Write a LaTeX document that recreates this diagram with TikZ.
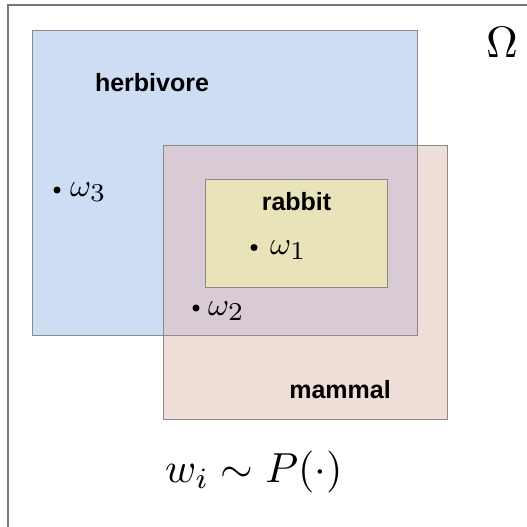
\documentclass[tikz,border=0pt]{standalone}
\usepackage{graphicx}
\usepackage{fontspec}
\newfontfamily\labelfont{Liberation Sans}
\definecolor{herbblue}{HTML}{CEDCF4}
\definecolor{mampink}{HTML}{EFDDD8}
\definecolor{overlapc}{HTML}{D8CBD6}
\definecolor{rabyellow}{HTML}{E8E3B8}
\definecolor{edgegray}{HTML}{8A8A8A}
\definecolor{framegray}{HTML}{777777}
\tikzset{
  setbox/.style={draw=edgegray, line width=0.9pt},
  setlabel/.style={inner sep=0pt, font=\labelfont\bfseries\fontsize{25}{30}\selectfont},
  elemlabel/.style={inner sep=0pt, anchor=base west},
  elemdot/.style={fill=black, circle, inner sep=0pt, minimum size=7pt},
}
\newcommand{\elemsym}[1]{\scalebox{3.2}{$\omega_{\scalebox{1.15}{$\scriptstyle #1$}}$}}
\begin{document}
\begin{tikzpicture}[x=1pt,y=-1pt]
\useasboundingbox (0,0) rectangle (527,527);
% outer frame
\draw[framegray, line width=1.6pt] (8,540) -- (8,5) -- (540,5);
% fills
\fill[herbblue] (32,30) rectangle (417,335);
\fill[mampink] (163,145) rectangle (447,419);
\fill[overlapc] (163,145) rectangle (417,335);
% borders
\draw[setbox] (32,30) rectangle (417,335);
\draw[setbox] (163,145) rectangle (447,419);
\draw[setbox, fill=rabyellow] (205,179) rectangle (387,287);
% labels
\node[setlabel, anchor=base] (herb) at (152,91) {herbivore};
\node[setlabel, anchor=base] (rab) at (296.5,210) {rabbit};
\node[setlabel, anchor=base] (mam) at (340,398) {mammal};
% elements
\node[elemdot] (d3) at (57,190) {};
\node[elemlabel] (w3) at (70,196) {\elemsym{3}};
\node[elemdot] (d1) at (254,247.5) {};
\node[elemlabel] (w1) at (270,254) {\elemsym{1}};
\node[elemdot] (d2) at (196,308) {};
\node[elemlabel] (w2) at (208,315) {\elemsym{2}};
% Omega and formula
\node[inner sep=0pt, anchor=base] (om) at (502,57) {\scalebox{4.4}{$\Omega$}};
\node[inner sep=0pt, anchor=base west] (form) at (165,482) {\scalebox{4.2}{$w_i \sim P(\cdot)$}};
\end{tikzpicture}
\end{document}
